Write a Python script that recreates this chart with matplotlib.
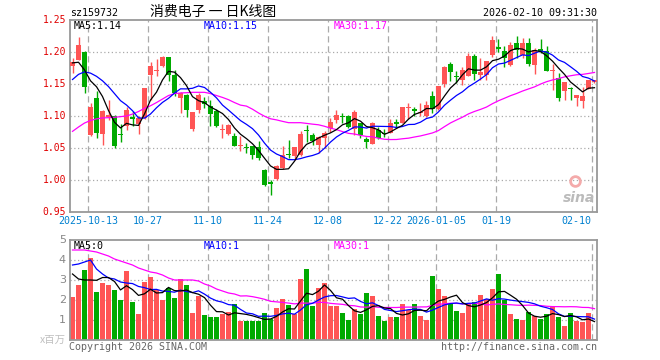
import numpy as np
import matplotlib
matplotlib.use("Agg")
import matplotlib.pyplot as plt

# ---------------- data ----------------
tick_idx = [3, 13, 23, 33, 43, 53, 61, 71, 87]
tick_lbl = ["2025-10-13", "10-27", "11-10", "11-24", "12-08", "12-22", "2026-01-05", "01-19", "02-10"]

opens = [1.1776, 1.188, 1.1995, 1.0708, 1.128, 1.072, 1.099, 1.0995, 1.072, 1.084,
         1.098, 1.088, 1.097, 1.1646, 1.170, 1.1786, 1.1917, 1.1635, 1.128, 1.133,
         1.0795, 1.1099, 1.1229, 1.116, 1.108, 1.0775, 1.072, 1.069, 1.0530, 1.0505,
         1.0536, 1.051, 1.016, 0.997, 1.002, 1.0187, 1.0390, 1.038, 1.0395, 1.0775,
         1.071, 1.055, 1.066, 1.0807, 1.0932, 1.0990, 1.0995, 1.0802, 1.089, 1.0640,
         1.057, 1.0786, 1.0725, 1.074, 1.0900, 1.0896, 1.1130, 1.1110, 1.1040, 1.0995,
         1.1318, 1.111, 1.1505, 1.1818, 1.1615, 1.1567, 1.163, 1.1943, 1.1635, 1.1635,
         1.1958, 1.2078, 1.202, 1.179, 1.214, 1.1958, 1.214, 1.18, 1.2052, 1.201,
         1.1705, 1.1593, 1.1385, 1.1435, 1.1281, 1.1229, 1.1427, 1.1526]
highs = [1.1906, 1.223, 1.201, 1.120, 1.1385, 1.110, 1.1255, 1.102, 1.0875, 1.114,
         1.1075, 1.1005, 1.1435, 1.1838, 1.1885, 1.193, 1.192, 1.172, 1.137, 1.134,
         1.106, 1.136, 1.1297, 1.1245, 1.1104, 1.088, 1.0875, 1.073, 1.068, 1.0583,
         1.0536, 1.0604, 1.017, 1.0005, 1.0239, 1.053, 1.0625, 1.052, 1.076, 1.0864,
         1.0734, 1.068, 1.076, 1.0963, 1.110, 1.1047, 1.102, 1.109, 1.089, 1.0677,
         1.090, 1.0828, 1.0797, 1.0948, 1.0948, 1.1135, 1.1198, 1.1135, 1.1198, 1.1240,
         1.1385, 1.1474, 1.1786, 1.1844, 1.170, 1.1765, 1.198, 1.197, 1.190, 1.1864,
         1.2245, 1.2208, 1.2099, 1.2156, 1.2245, 1.2218, 1.2218, 1.2062, 1.220, 1.2088,
         1.1818, 1.167, 1.153, 1.1453, 1.1333, 1.146, 1.1567, 1.1567]
lows = [1.167, 1.187, 1.136, 1.069, 1.0656, 1.055, 1.094, 1.050, 1.059, 1.078,
        1.084, 1.072, 1.096, 1.1245, 1.162, 1.177, 1.154, 1.1307, 1.1047, 1.098,
        1.076, 1.104, 1.1125, 1.084, 1.083, 1.066, 1.0708, 1.0526, 1.0453, 1.0427,
        1.0328, 1.0307, 0.990, 0.977, 1.0005, 1.017, 1.035, 1.032, 1.038, 1.060,
        1.054, 1.042, 1.050, 1.0755, 1.089, 1.089, 1.0807, 1.070, 1.0656, 1.050,
        1.0557, 1.064, 1.0666, 1.073, 1.0818, 1.0886, 1.0953, 1.1005, 1.1000, 1.0979,
        1.1047, 1.110, 1.1453, 1.154, 1.1515, 1.149, 1.162, 1.156, 1.157, 1.156,
        1.1922, 1.2005, 1.1765, 1.1786, 1.1906, 1.1906, 1.178, 1.166, 1.1984, 1.170,
        1.1406, 1.1239, 1.125, 1.1245, 1.116, 1.1125, 1.1417, 1.1515]
closes = [1.1844, 1.2104, 1.146, 1.114, 1.074, 1.108, 1.101, 1.0536, 1.070, 1.110,
          1.096, 1.097, 1.143, 1.1786, 1.1715, 1.1917, 1.1646, 1.136, 1.136, 1.109,
          1.1057, 1.1333, 1.1193, 1.1036, 1.084, 1.079, 1.0864, 1.0536, 1.0545, 1.0495,
          1.039, 1.0345, 0.9927, 0.9945, 1.0223, 1.0395, 1.0385, 1.052, 1.072, 1.0765,
          1.0604, 1.067, 1.0734, 1.091, 1.102, 1.0980, 1.0828, 1.106, 1.0708, 1.060,
          1.089, 1.0656, 1.0715, 1.0896, 1.0870, 1.1135, 1.1140, 1.1085, 1.1052, 1.1177,
          1.111, 1.1464, 1.176, 1.168, 1.1605, 1.1713, 1.193, 1.1656, 1.168, 1.1864,
          1.2193, 1.2042, 1.1906, 1.2104, 1.2036, 1.214, 1.1818, 1.2026, 1.2020, 1.1708,
          1.1715, 1.128, 1.153, 1.1425, 1.1333, 1.1317, 1.1567, 1.1567]
volume = [2.17, 2.75, 3.5, 4.1, 2.4, 2.87, 2.75, 2.5, 2.0, 3.45,
          1.9, 1.3, 2.9, 3.15, 2.5, 2.0, 2.6, 2.1, 3.05, 2.75,
          1.35, 2.2, 1.25, 1.15, 1.15, 1.3, 1.4, 1.8, 0.95, 0.95,
          0.95, 0.95, 1.35, 1.05, 1.6, 2.05, 1.75, 1.3, 3.05, 3.55,
          1.7, 2.6, 2.85, 1.7, 1.7, 1.35, 1.0, 1.55, 1.3, 2.35,
          2.2, 1.2, 0.95, 1.15, 1.15, 1.8, 1.5, 1.8, 1.2, 1.0,
          3.2, 2.55, 2.2, 1.8, 1.45, 1.35, 1.8, 1.9, 2.25, 2.05,
          2.55, 3.3, 2.0, 1.3, 1.05, 1.0, 1.4, 1.2, 1.05, 1.3,
          1.65, 1.15, 0.7, 1.35, 0.95, 0.9, 1.35, 0.05]

ma5_head = [1.183, 1.184, 1.172, 1.155]
ma10_head = [1.157, 1.165, 1.169, 1.167, 1.162, 1.155, 1.146, 1.135, 1.124]
ma30_head = [1.076, 1.0828, 1.089, 1.093, 1.0955, 1.097, 1.0974, 1.098, 1.099, 1.100,
             1.103, 1.107, 1.112, 1.116, 1.121, 1.1265, 1.132, 1.135, 1.136, 1.1364,
             1.137, 1.137, 1.137, 1.135, 1.132, 1.129, 1.1255, 1.121, 1.117]
vma5_head = [3.3, 3.05, 3.0, 3.0]
vma10_head = [3.75, 3.8, 3.9, 4.0, 3.55, 3.3, 3.1, 3.05, 2.9]
vma30_head = [4.5, 4.5, 4.5, 4.45, 4.4, 4.3, 4.2, 4.05, 3.95, 3.85,
              3.75, 3.6, 3.5, 3.4, 3.35, 3.25, 3.1, 3.0, 3.0, 3.0,
              3.0, 2.95, 2.8, 2.7, 2.55, 2.45, 2.35, 2.3, 2.2]

title_code = "sz159732"
title_name = "消费电子 一 日K线图"
timestamp = "2026-02-10 09:31:30"


def mov_avg(vals, n, head):
    v = np.asarray(vals, float)
    out = np.empty(len(v))
    for i in range(len(v)):
        out[i] = head[i] if i < n - 1 else v[i - n + 1:i + 1].mean()
    return out


W, H = 660, 360
RED = "#FF5555"
GREEN = "#00AA00"
GRID = "#AAAAAA"
BORDER = "#999999"
MONO = "DejaVu Sans Mono"

fig = plt.figure(figsize=(6.6, 3.6), dpi=100)
fig.patch.set_facecolor("white")

L, R = 70, 597
ax = fig.add_axes([L / W, (H - 212) / H, (R - L) / W, 192 / H])
axv = fig.add_axes([L / W, (H - 340) / H, (R - L) / W, 100 / H])

n = len(closes)
x = np.arange(n)
xl = (L - 72.5) / 6.0
xr = (R - 72.5) / 6.0
o = np.array(opens); c = np.array(closes); h = np.array(highs); lo = np.array(lows)
up = c >= o
cols = [RED if u else GREEN for u in up]

for a in (ax, axv):
    a.set_xlim(xl, xr)
    for s in a.spines.values():
        s.set_color(BORDER)
        s.set_linewidth(1.3)
    a.set_xticks([])
    a.set_yticks([])
    for t in tick_idx:
        a.axvline(t + xl, color=GRID, lw=0.9, ls=(0, (5, 3)), zorder=0)

ax.set_ylim(0.95, 1.25)
for yv in [1.00, 1.05, 1.10, 1.15, 1.20]:
    ax.axhline(yv, color=GRID, lw=0.9, ls=(0, (1, 2)), zorder=0)

# candles
ax.vlines(x, lo, h, colors=cols, lw=1.0, zorder=2)
body_bot = np.minimum(o, c)
body_h = np.maximum(np.abs(c - o), 0.0016)
ax.bar(x, body_h, bottom=body_bot, width=0.82, color=cols, linewidth=0, zorder=3)

ma5 = mov_avg(closes, 5, ma5_head)
ma10 = mov_avg(closes, 10, ma10_head)
ma30 = mov_avg(closes, 30, ma30_head)
ax.plot(x, ma30, color="#FF00FF", lw=0.9, zorder=4)
ax.plot(x, ma10, color="#0000FF", lw=0.9, zorder=4)
ax.plot(x, ma5, color="black", lw=0.9, zorder=4)

# volume
axv.set_ylim(0, 5)
for yv in [1, 2, 3, 4]:
    axv.axhline(yv, color=GRID, lw=0.9, ls=(0, (1, 2)), zorder=0)
axv.bar(x, volume, width=0.82, color=cols, linewidth=0, zorder=2)
vma5 = mov_avg(volume, 5, vma5_head)
vma10 = mov_avg(volume, 10, vma10_head)
vma30 = mov_avg(volume, 30, vma30_head)
axv.plot(x, vma30, color="#FF00FF", lw=0.9, zorder=4)
axv.plot(x, vma10, color="#0000FF", lw=0.9, zorder=4)
axv.plot(x, vma5, color="black", lw=0.9, zorder=4)


def ftxt(px, py, s, **kw):
    fig.text(px / W, 1 - py / H, s, **kw)


# header
ftxt(70, 13, title_code, family=MONO, fontsize=7.2, color="black", va="center", ha="left")
ftxt(150, 12, title_name, family=["Noto Sans CJK SC", "DejaVu Sans"], fontsize=10,
     color="black", va="center", ha="left")
ftxt(597, 13, timestamp, family=MONO, fontsize=7.2, color="black", va="center", ha="right")

# legends
ftxt(74, 26, f"MA5:{ma5[-1]:.2f}", family=MONO, fontsize=7.2, color="black", va="center")
ftxt(204, 26, f"MA10:{ma10[-1]:.2f}", family=MONO, fontsize=7.2, color="#0000FF", va="center")
ftxt(334, 26, f"MA30:{ma30[-1]:.2f}", family=MONO, fontsize=7.2, color="#FF00FF", va="center")
ftxt(74, 246, f"MA5:{int(vma5[-1])}", family=MONO, fontsize=7.2, color="black", va="center")
ftxt(204, 246, f"MA10:{int(vma10[-1])}", family=MONO, fontsize=7.2, color="#0000FF", va="center")
ftxt(334, 246, f"MA30:{int(vma30[-1])}", family=MONO, fontsize=7.2, color="#FF00FF", va="center")

# price ticks
for yv in [1.25, 1.20, 1.15, 1.10, 1.05, 1.00, 0.95]:
    py = 20 + (1.25 - yv) / 0.05 * 32
    ftxt(66, py, f"{yv:.2f}", family=MONO, fontsize=7.0, color="#E00000", va="center", ha="right")

# date ticks
for t, s in zip(tick_idx, tick_lbl):
    px = 70 + 6 * t
    ha = "right" if t == tick_idx[-1] else "center"
    ftxt(px - (1 if ha == "right" else 0), 221, s, family=MONO, fontsize=7.2,
         color="#0080D0", va="center", ha=ha)

# volume ticks
for v in [5, 4, 3, 2, 1]:
    py = 340 - v * 20
    ftxt(66, py, str(v), family="DejaVu Sans", fontsize=8, color="#888888", va="center", ha="right")
ftxt(66, 340, "x百万", family=["Noto Sans CJK SC", "DejaVu Sans"], fontsize=7.5,
     color="#C0C0C0", va="center", ha="right")

# footer
ftxt(69, 347, "Copyright 2026 SINA.COM", family=MONO, fontsize=7.2, color="#666666", va="center")
ftxt(597, 347, "http://finance.sina.com.cn", family=MONO, fontsize=7.2, color="#666666",
     va="center", ha="right")

# watermark
ax.text(0.997, 0.035, "sina", transform=ax.transAxes, ha="right", va="bottom",
        fontsize=10, fontweight="bold", style="italic", color="#BBBBBB", family="DejaVu Sans",
        zorder=1)
ax.plot([0.958], [0.16], marker="o", ms=7, mfc="none", mec="#F4AAAA", mew=2,
        transform=ax.transAxes, zorder=1)

fig.savefig("out.png", dpi=100)
